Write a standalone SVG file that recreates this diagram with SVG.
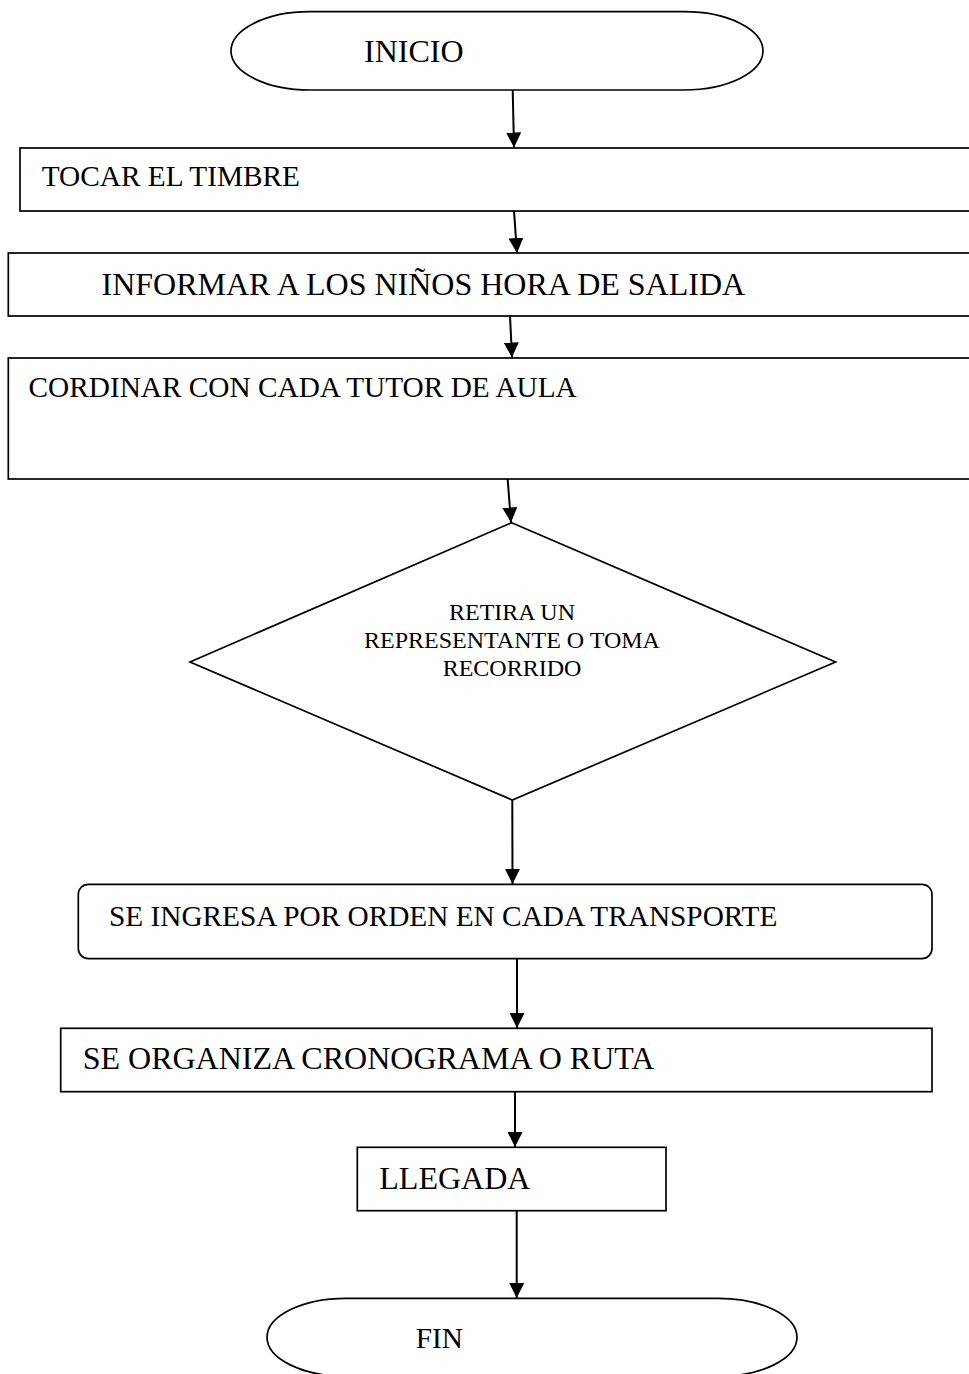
<svg xmlns="http://www.w3.org/2000/svg" width="969" height="1374" viewBox="0 0 969 1374">
<style>
  .shape { fill: #ffffff; stroke: #000000; stroke-width: 1.7; }
  .conn { fill: none; stroke: #000000; stroke-width: 2; }
  .t { font-family: "Liberation Serif", "Times New Roman", serif; fill: #000000; }
  .s29 { font-size: 29.3px; }
  .s32 { font-size: 32px; }
  .s24 { font-size: 24px; }
</style>
<defs>
  <marker id="arrow" markerUnits="userSpaceOnUse" markerWidth="15" markerHeight="15" refX="15" refY="7.5" orient="auto">
    <path d="M0,0 L15,7.5 L0,15 Z" fill="#000000"/>
  </marker>
</defs>
<rect x="0" y="0" width="969" height="1374" fill="#ffffff"/>

<g id="connectors">
  <line class="conn" x1="512.7" y1="90" x2="514" y2="147.5" marker-end="url(#arrow)"/>
  <line class="conn" x1="514" y1="211" x2="517" y2="253" marker-end="url(#arrow)"/>
  <line class="conn" x1="510" y1="316" x2="512" y2="357.5" marker-end="url(#arrow)"/>
  <line class="conn" x1="507.5" y1="477" x2="511" y2="522.5" marker-end="url(#arrow)"/>
  <line class="conn" x1="512.3" y1="800" x2="512.5" y2="884" marker-end="url(#arrow)"/>
  <line class="conn" x1="517" y1="958.6" x2="517" y2="1028" marker-end="url(#arrow)"/>
  <line class="conn" x1="515" y1="1092" x2="515" y2="1147" marker-end="url(#arrow)"/>
  <line class="conn" x1="516.7" y1="1210.7" x2="516.7" y2="1298" marker-end="url(#arrow)"/>
</g>

<g id="inicio">
  <path class="shape" d="M310,11.7 H684 A79,39.15 0 0 1 684,90 H310 A79,39.15 0 0 1 310,11.7 Z"/>
  <text class="t s32" x="364" y="62">INICIO</text>
</g>

<g id="tocar">
  <rect class="shape" x="20" y="148" width="960" height="63"/>
  <text class="t s29" x="41.7" y="186">TOCAR EL TIMBRE</text>
</g>

<g id="informar">
  <rect class="shape" x="8.3" y="253" width="972" height="63"/>
  <text class="t s32" x="101.5" y="295">INFORMAR A LOS NIÑOS HORA DE SALIDA</text>
</g>

<g id="cordinar">
  <rect class="shape" x="8.3" y="358" width="972" height="121"/>
  <text class="t s29" x="28.5" y="397">CORDINAR CON CADA TUTOR DE AULA</text>
</g>

<g id="decision">
  <polygon class="shape" points="511.7,522.7 835.6,662 512.3,800 190,662"/>
  <text class="t s24" x="512" y="620" text-anchor="middle">RETIRA UN</text>
  <text class="t s24" x="512" y="648" text-anchor="middle">REPRESENTANTE O TOMA</text>
  <text class="t s24" x="512" y="676" text-anchor="middle">RECORRIDO</text>
</g>

<g id="ingresa">
  <rect class="shape" x="78.3" y="884.3" width="853.7" height="74.3" rx="10" ry="10"/>
  <text class="t s29" x="109" y="926">SE INGRESA POR ORDEN EN CADA TRANSPORTE</text>
</g>

<g id="organiza">
  <rect class="shape" x="60.7" y="1028.3" width="871.3" height="63.4"/>
  <text class="t s32" x="82.7" y="1069">SE ORGANIZA CRONOGRAMA O RUTA</text>
</g>

<g id="llegada">
  <rect class="shape" x="357.3" y="1147.3" width="308.7" height="63.4"/>
  <text class="t s32" x="379.3" y="1189">LLEGADA</text>
</g>

<g id="fin">
  <path class="shape" d="M346,1298.3 H718 A79,39 0 0 1 718,1376.3 H346 A79,39 0 0 1 346,1298.3 Z"/>
  <text class="t s29" x="415.7" y="1348">FIN</text>
</g>
</svg>
